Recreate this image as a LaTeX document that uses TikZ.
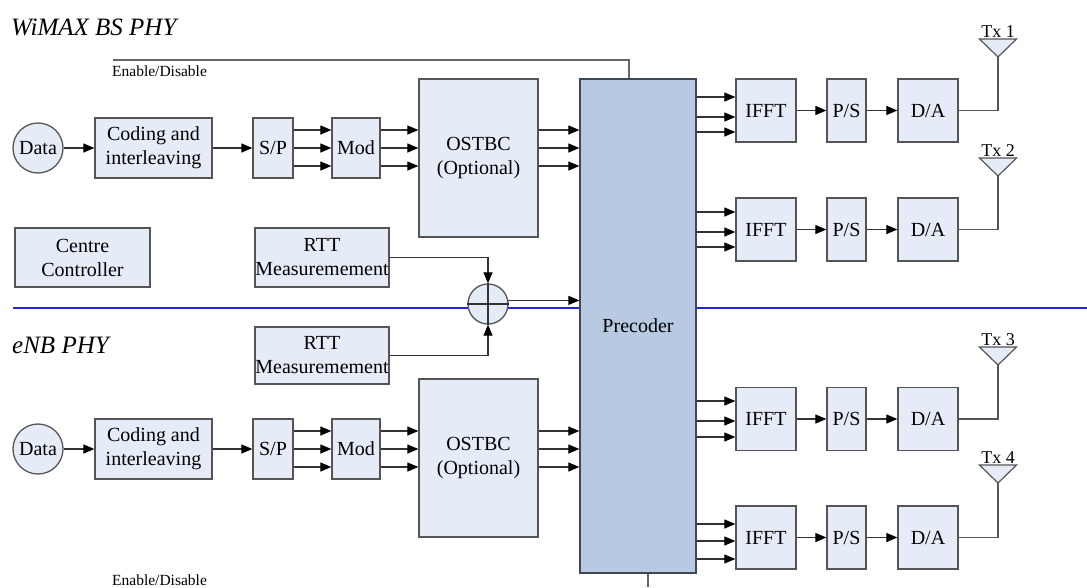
\documentclass[tikz,border=0pt]{standalone}
\usepackage{fontspec}
\setmainfont{Liberation Serif}
\usetikzlibrary{arrows.meta,shapes.geometric,calc}
\definecolor{boxfill}{HTML}{E6ECF7}
\definecolor{boxdraw}{HTML}{555555}
\definecolor{prefill}{HTML}{B8C9E2}
\definecolor{predraw}{HTML}{3E4852}
\definecolor{linec}{HTML}{333333}
\definecolor{sepblue}{HTML}{2424E0}
\tikzset{
  blk/.style={draw=boxdraw,fill=boxfill,line width=1.3pt,inner sep=0pt,align=center,font=\fontsize{20}{24}\selectfont},
  conn/.style={draw=linec,line width=1.2pt},
  arr/.style={conn,-{Triangle[length=11pt,width=9pt,color=black]}},
  thin/.style={draw=gray!80!black,line width=1.2pt},
  antshape/.style={draw=boxdraw,fill=boxfill,line width=1.2pt,line join=miter},
  lbl/.style={font=\fontsize{18}{20}\selectfont,inner sep=0pt},
  title/.style={font=\fontsize{25}{28}\selectfont\itshape,inner sep=0pt,anchor=west},
}
\begin{document}
\begin{tikzpicture}[x=1pt,y=-1pt]
\useasboundingbox (0,0) rectangle (1087,587);
% titles
\node[title] (t1) at (11,27) {WiMAX BS PHY};
\node[title] (t2) at (12,345) {eNB PHY};
% separator
\draw[sepblue,line width=2pt] (13,308) -- (1087,308);
% enable lines
\node[inner sep=0pt,anchor=west,font=\fontsize{15.5}{17}\selectfont] (en1) at (112,71) {Enable/Disable};
\node[inner sep=0pt,anchor=west,font=\fontsize{15.5}{17}\selectfont] (en2) at (112,580) {Enable/Disable};
% precoder
\node[draw=predraw,fill=prefill,line width=1.3pt,minimum width=116pt,minimum height=494pt,inner sep=0pt,font=\fontsize{20}{24}\selectfont] (pre) at (638,326) {Precoder};
\coordinate (e1) at (113,60);
\draw[thin] (e1) -- (629,60) -- (629,60 |- pre.north);
\coordinate (e2) at (648,587);
\draw[thin] (648,0 |- pre.south) -- (e2);
% left chains
\foreach \r/\yc/\yo in {1/148/158, 2/449/458}{
  \node[blk,circle,minimum size=50pt] (data\r) at (38,\yc) {Data};
  \node[blk,minimum width=117pt,minimum height=60pt] (code\r) at (153.5,\yc) {Coding and\\interleaving};
  \node[blk,minimum width=40pt,minimum height=60pt] (sp\r) at (273,\yc) {S/P};
  \node[blk,minimum width=48pt,minimum height=60pt] (mod\r) at (356,\yc) {Mod};
  \node[blk,minimum width=119pt,minimum height=158pt] (ost\r) at (478.5,\yo) {OSTBC\\(Optional)};
  \draw[arr] (data\r) -- (code\r);
  \draw[arr] (code\r) -- (sp\r);
  \foreach \d in {-18,0,18}{
    \draw[arr] (sp\r.east |- 0,\yc+\d) -- (mod\r.west |- 0,\yc+\d);
    \draw[arr] (mod\r.east |- 0,\yc+\d) -- (ost\r.west |- 0,\yc+\d);
    \draw[arr] (ost\r.east |- 0,\yc+\d) -- (pre.west |- 0,\yc+\d);
  }
}
% centre / rtt / adder
\node[blk,minimum width=135pt,minimum height=59pt] (cc) at (82.5,257.5) {Centre\\Controller};
\node[blk,minimum width=134pt,minimum height=59pt] (rtt1) at (322,257.5) {RTT\\Measuremement};
\node[blk,minimum width=134pt,minimum height=57pt] (rtt2) at (322,355.5) {RTT\\Measuremement};
\node[draw=boxdraw,fill=boxfill,line width=1.3pt,circle,minimum size=40pt,inner sep=0pt] (add) at (488,304) {};
\draw[conn] (add.north) -- (add.south) (add.west) -- (add.east);
\draw[arr] (rtt1.east) -| (add.north);
\draw[arr] (rtt2.east) -| (add.south);
\draw[arr] (add.10) -- (add.10 -| pre.west);
% right chains
\foreach \r/\yc/\da/\db/\dc/\tip in {1/110.5/97/117/132/57, 2/229.5/212/232/247/176, 3/419/401/421/437/365, 4/537.5/524/541/559/483}{
  \node[blk,minimum width=60pt,minimum height=63pt] (ifft\r) at (766,\yc) {IFFT};
  \node[blk,minimum width=39pt,minimum height=63pt] (ps\r) at (846.5,\yc) {P/S};
  \node[blk,minimum width=60pt,minimum height=63pt] (da\r) at (928,\yc) {D/A};
  \coordinate (ant\r) at (998,\tip);
  \draw[antshape] ($(ant\r)+(-18.5,-18)$) -- ($(ant\r)+(18.5,-18)$) -- (ant\r) -- cycle;
  \node[lbl,anchor=south] (tx\r) at ($(ant\r)+(0,-19.5)$) {Tx \r};
  \foreach \yy in {\da,\db,\dc}{
    \draw[arr] (pre.east |- 0,\yy) -- (ifft\r.west |- 0,\yy);
  }
  \draw[arr] (ifft\r) -- (ps\r);
  \draw[arr] (ps\r) -- (da\r);
  \draw[conn,draw=boxdraw] (da\r.east) -| (ant\r);
}
\end{tikzpicture}
\end{document}
